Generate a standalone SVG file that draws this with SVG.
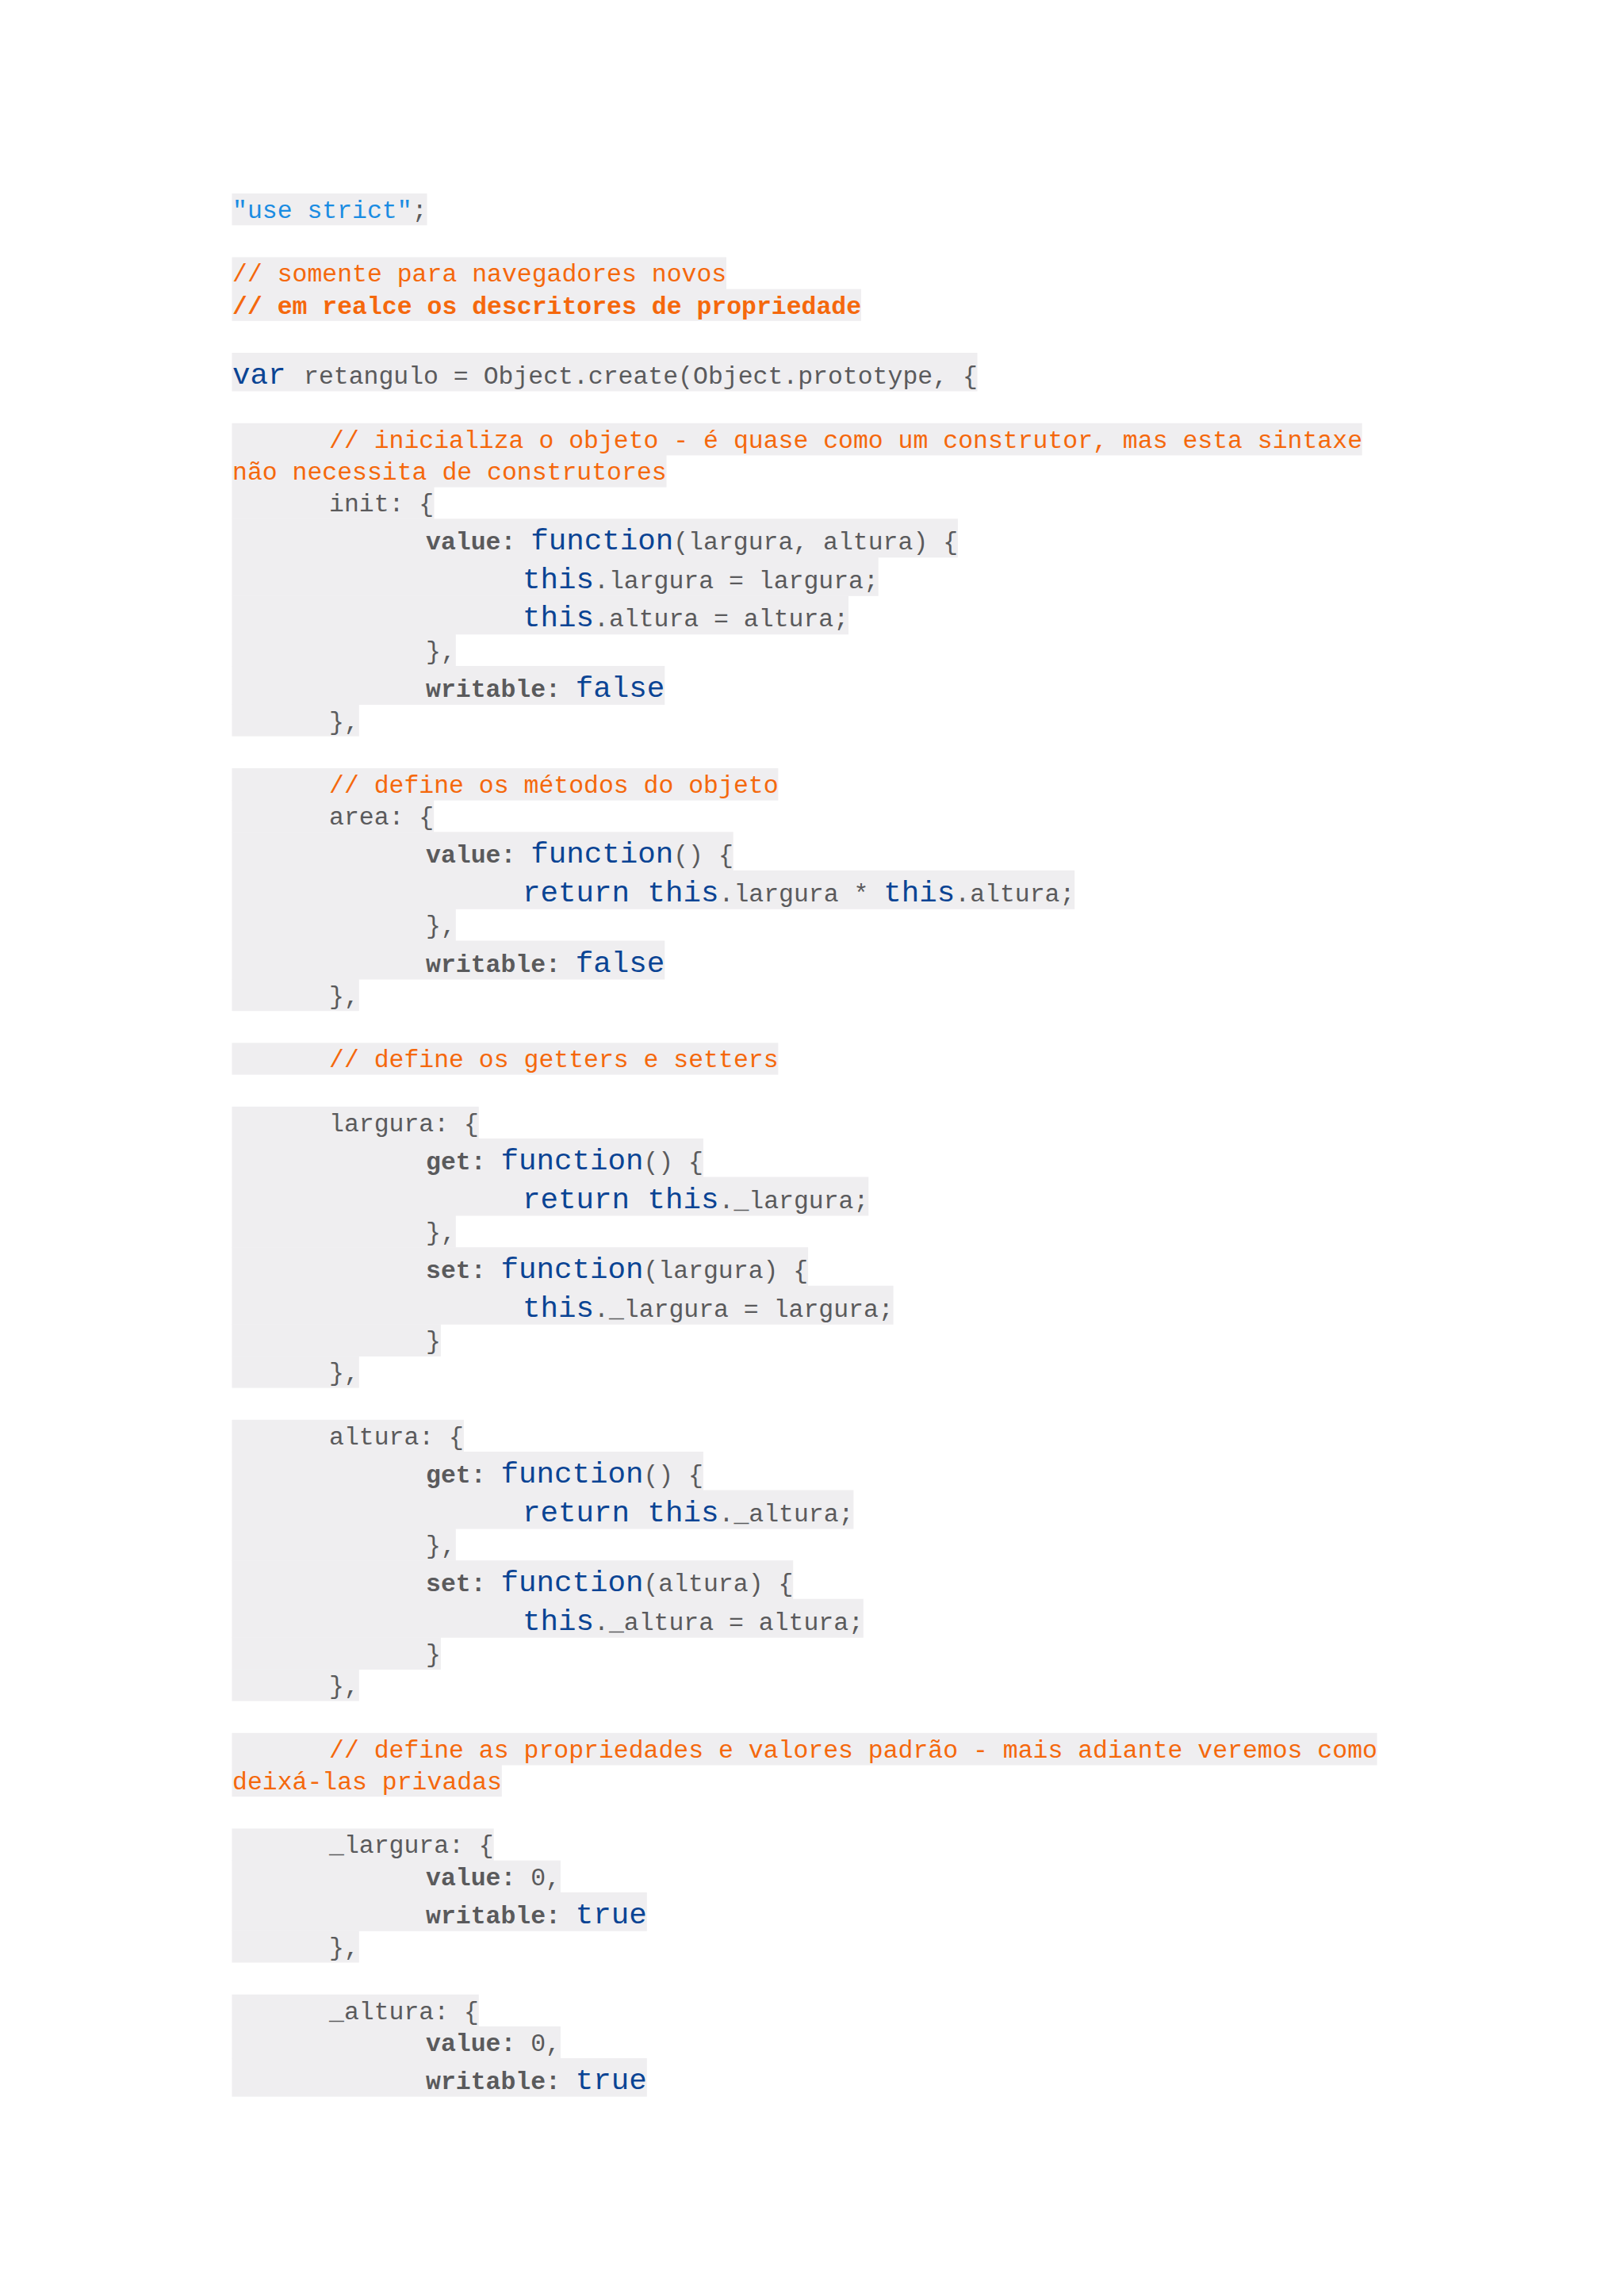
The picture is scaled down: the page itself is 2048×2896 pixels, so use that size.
<svg xmlns="http://www.w3.org/2000/svg" width="2048" height="2896" viewBox="0 0 2048 2896">
<style>
text{font-family:"Liberation Mono","DejaVu Sans Mono",monospace;font-size:31.47px;fill:#5a5a5c;white-space:pre}
.k{font-size:37.5px;fill:#0a4494}
.b{font-weight:bold}
.c{fill:#f5680c}
.s{fill:#1a8ce2}
rect{fill:#efeef0}
</style>
<rect x="0" y="0" width="2048" height="2896" style="fill:#ffffff"/>
<g id="header">
<rect x="292.5" y="244" width="246" height="40.2"/>
<text x="293" y="275"><tspan class="s">"use strict"</tspan>;</text>
<rect x="292.5" y="324.4" width="623.5" height="40.7"/>
<rect x="292.5" y="364.6" width="793.5" height="40.2"/>
<text x="293" y="355.4" class="c">// somente para navegadores novos</text>
<text x="293" y="395.6" class="c b">// em realce os descritores de propriedade</text>
<rect x="292.5" y="445" width="940" height="48.5"/>
<text x="293" y="484"><tspan class="k">var </tspan>retangulo = Object.create(Object.prototype, {</text>
</g>
<g id="init">
<rect x="292.5" y="533.7" width="1425.2" height="40.7"/>
<rect x="292.5" y="573.9" width="548" height="40.7"/>
<rect x="292.5" y="614.1" width="255" height="40.7"/>
<rect x="292.5" y="654.3" width="915.4" height="49"/>
<rect x="292.5" y="702.8" width="815.2" height="49"/>
<rect x="292.5" y="751.3" width="777.5" height="49"/>
<rect x="292.5" y="799.8" width="282.3" height="40.7"/>
<rect x="292.5" y="840" width="545.8" height="49"/>
<rect x="292.5" y="888.5" width="160.3" height="40.2"/>
<text x="415" y="564.7" class="c">// inicializa o objeto - é quase como um construtor, mas esta sintaxe</text>
<text x="293" y="604.9" class="c">não necessita de construtores</text>
<text x="415" y="645.1">init: {</text>
<text x="537" y="693.3"><tspan class="b">value: </tspan><tspan class="k">function</tspan>(largura, altura) {</text>
<text x="659" y="741.8"><tspan class="k">this</tspan>.largura = largura;</text>
<text x="659" y="790.3"><tspan class="k">this</tspan>.altura = altura;</text>
<text x="537" y="830.8">},</text>
<text x="537" y="879"><tspan class="b">writable: </tspan><tspan class="k">false</tspan></text>
<text x="415" y="919.5">},</text>
</g>
<g id="area">
<rect x="292.5" y="968.9" width="688.9" height="40.7"/>
<rect x="292.5" y="1009.1" width="254.7" height="40.7"/>
<rect x="292.5" y="1049.3" width="632.2" height="49"/>
<rect x="292.5" y="1097.8" width="1062.7" height="49"/>
<rect x="292.5" y="1146.3" width="282.3" height="40.7"/>
<rect x="292.5" y="1186.5" width="545.8" height="49"/>
<rect x="292.5" y="1235" width="160.3" height="40.2"/>
<text x="415" y="999.9" class="c">// define os métodos do objeto</text>
<text x="415" y="1040.1">area: {</text>
<text x="537" y="1088.3"><tspan class="b">value: </tspan><tspan class="k">function</tspan>() {</text>
<text x="659" y="1136.8"><tspan class="k">return this</tspan>.largura * <tspan class="k">this</tspan>.altura;</text>
<text x="537" y="1177.3">},</text>
<text x="537" y="1225.5"><tspan class="b">writable: </tspan><tspan class="k">false</tspan></text>
<text x="415" y="1266">},</text>
</g>
<g id="getters-comment">
<rect x="292.5" y="1315.4" width="688.9" height="40.2"/>
<text x="415" y="1346.4" class="c">// define os getters e setters</text>
</g>
<g id="largura">
<rect x="292.5" y="1395.8" width="311.3" height="40.7"/>
<rect x="292.5" y="1436" width="594.4" height="49"/>
<rect x="292.5" y="1484.5" width="802.8" height="49"/>
<rect x="292.5" y="1533" width="282.3" height="40.7"/>
<rect x="292.5" y="1573.2" width="726.6" height="49"/>
<rect x="292.5" y="1621.7" width="834.1" height="49"/>
<rect x="292.5" y="1670.2" width="263.4" height="40.7"/>
<rect x="292.5" y="1710.4" width="160.3" height="40.2"/>
<text x="415" y="1426.8">largura: {</text>
<text x="537" y="1475"><tspan class="b">get: </tspan><tspan class="k">function</tspan>() {</text>
<text x="659" y="1523.5"><tspan class="k">return this</tspan>._largura;</text>
<text x="537" y="1564">},</text>
<text x="537" y="1612.2"><tspan class="b">set: </tspan><tspan class="k">function</tspan>(largura) {</text>
<text x="659" y="1660.7"><tspan class="k">this</tspan>._largura = largura;</text>
<text x="537" y="1701.2">}</text>
<text x="415" y="1741.4">},</text>
</g>
<g id="altura">
<rect x="292.5" y="1790.8" width="292.4" height="40.7"/>
<rect x="292.5" y="1831" width="594.4" height="49"/>
<rect x="292.5" y="1879.5" width="783.9" height="49"/>
<rect x="292.5" y="1928" width="282.3" height="40.7"/>
<rect x="292.5" y="1968.2" width="707.7" height="49"/>
<rect x="292.5" y="2016.7" width="796.3" height="49"/>
<rect x="292.5" y="2065.2" width="263.4" height="40.7"/>
<rect x="292.5" y="2105.4" width="160.3" height="40.2"/>
<text x="415" y="1821.8">altura: {</text>
<text x="537" y="1870"><tspan class="b">get: </tspan><tspan class="k">function</tspan>() {</text>
<text x="659" y="1918.5"><tspan class="k">return this</tspan>._altura;</text>
<text x="537" y="1959">},</text>
<text x="537" y="2007.2"><tspan class="b">set: </tspan><tspan class="k">function</tspan>(altura) {</text>
<text x="659" y="2055.7"><tspan class="k">this</tspan>._altura = altura;</text>
<text x="537" y="2096.2">}</text>
<text x="415" y="2136.4">},</text>
</g>
<g id="props-comment">
<rect x="292.5" y="2185.8" width="1444.1" height="40.7"/>
<rect x="292.5" y="2226" width="340.3" height="40.2"/>
<text x="415" y="2216.8" class="c">// define as propriedades e valores padrão - mais adiante veremos como</text>
<text x="293" y="2257" class="c">deixá-las privadas</text>
</g>
<g id="_largura">
<rect x="292.5" y="2306.4" width="330.2" height="40.7"/>
<rect x="292.5" y="2346.6" width="414.4" height="40.7"/>
<rect x="292.5" y="2386.8" width="523.3" height="49"/>
<rect x="292.5" y="2435.3" width="160.3" height="40.2"/>
<text x="415" y="2337.4">_largura: {</text>
<text x="537" y="2377.6"><tspan class="b">value:</tspan> 0,</text>
<text x="537" y="2425.8"><tspan class="b">writable: </tspan><tspan class="k">true</tspan></text>
<text x="415" y="2466.3">},</text>
</g>
<g id="_altura">
<rect x="292.5" y="2515.7" width="311.3" height="40.7"/>
<rect x="292.5" y="2555.9" width="414.4" height="40.7"/>
<rect x="292.5" y="2596.1" width="523.3" height="48.5"/>
<text x="415" y="2546.7">_altura: {</text>
<text x="537" y="2586.9"><tspan class="b">value:</tspan> 0,</text>
<text x="537" y="2635.1"><tspan class="b">writable: </tspan><tspan class="k">true</tspan></text>
</g>
</svg>
